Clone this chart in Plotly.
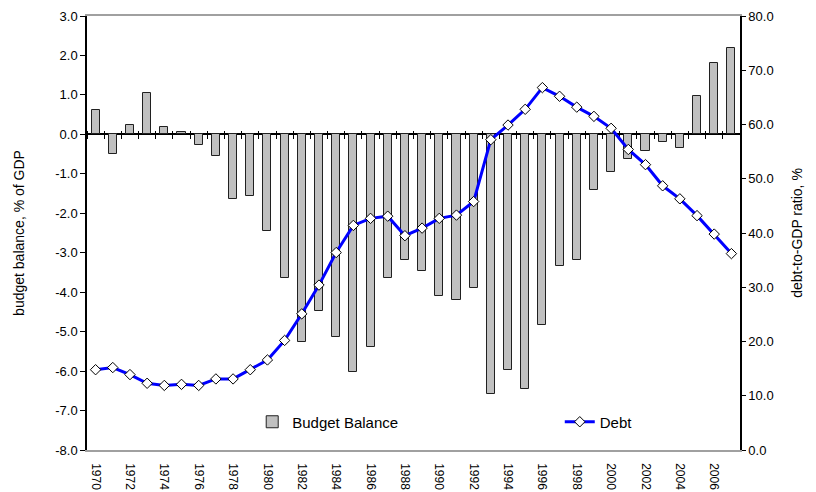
import plotly.graph_objects as go

years = list(range(1970, 2008))
budget_balance = [0.62, -0.50, 0.25, 1.04, 0.18, 0.06, -0.28, -0.56, -1.64, -1.55,
                  -2.46, -3.65, -5.25, -4.47, -5.13, -6.02, -5.40, -3.63, -3.19, -3.47,
                  -4.09, -4.21, -3.90, -6.57, -5.98, -6.45, -4.83, -3.34, -3.19, -1.42,
                  -0.96, -0.63, -0.43, -0.19, -0.34, 0.97, 1.81, 2.19]
debt = [14.8, 15.2, 13.9, 12.3, 11.9, 12.1, 11.9, 13.1, 13.1, 14.8,
        16.6, 20.2, 25.1, 30.4, 36.4, 41.4, 42.7, 43.1, 39.5, 40.9,
        42.7, 43.3, 45.8, 57.2, 59.9, 62.8, 66.8, 65.2, 63.2, 61.5,
        59.3, 55.4, 52.6, 48.7, 46.3, 43.2, 39.8, 36.2]

x_tick_labels = [str(y) for y in range(1970, 2007, 2)]
left_tick_vals = [3, 2, 1, 0, -1, -2, -3, -4, -5, -6, -7, -8]
left_tick_text = ["3.0", "2.0", "1.0", "0.0", "-1.0", "-2.0", "-3.0", "-4.0",
                  "-5.0", "-6.0", "-7.0", "-8.0"]
right_tick_vals = [0, 10, 20, 30, 40, 50, 60, 70, 80]
right_tick_text = ["0.0", "10.0", "20.0", "30.0", "40.0", "50.0", "60.0", "70.0", "80.0"]

FONT = "Liberation Sans, Arial, sans-serif"

fig = go.Figure()

fig.add_trace(go.Bar(
    x=years, y=budget_balance, name="Budget Balance",
    width=0.47,
    marker=dict(color="#c0c0c0", line=dict(color="#202020", width=1)),
    xaxis="x", yaxis="y", legend="legend",
))

fig.add_trace(go.Scatter(
    x=years, y=debt, name="Debt", mode="lines+markers",
    line=dict(color="#0000ff", width=3),
    marker=dict(symbol="diamond", size=8, color="white",
                line=dict(color="black", width=1)),
    xaxis="x", yaxis="y2", legend="legend2",
))

# invisible traces so the zero-line axes get drawn
for ax in ("x2", "x3"):
    fig.add_trace(go.Scatter(x=[years[0]], y=[0], mode="markers",
                             marker=dict(opacity=0), showlegend=False,
                             hoverinfo="skip", xaxis=ax, yaxis="y"))

xr = [1969.5, 2007.5]
zero_pos = 8 / 11

fig.update_layout(
    width=816, height=492,
    margin=dict(l=87, r=76, t=16, b=42),
    paper_bgcolor="white", plot_bgcolor="white",
    font=dict(family=FONT, color="black", size=13),
    bargap=0,
    xaxis=dict(
        range=xr, tickmode="array",
        tickvals=[int(t) for t in x_tick_labels], ticktext=x_tick_labels,
        tickangle=90, tickfont=dict(size=12), ticks="",
        showline=True, linecolor="#a0a0a0", linewidth=1.5, mirror=True,
        showgrid=False, zeroline=False, ticklabelstandoff=9, automargin=False,
    ),
    xaxis2=dict(
        range=xr, overlaying="x", anchor="free", position=zero_pos, side="bottom",
        tickmode="linear", tick0=1969.5, dtick=1, ticks="outside", ticklen=4,
        tickcolor="black", showticklabels=False, showline=True, linecolor="black",
        linewidth=1.5, showgrid=False, zeroline=False, layer="below traces",
        automargin=False,
    ),
    xaxis3=dict(
        range=xr, overlaying="x", anchor="free", position=zero_pos, side="top",
        tickmode="linear", tick0=1969.5, dtick=1, ticks="outside", ticklen=3,
        tickcolor="black", showticklabels=False, showline=False,
        showgrid=False, zeroline=False, layer="below traces", automargin=False,
    ),
    yaxis=dict(
        range=[-8, 3], tickmode="array", tickvals=left_tick_vals, ticktext=left_tick_text,
        ticks="outside", ticklen=5, tickcolor="black",
        showline=True, linecolor="black", linewidth=1.5,
        showgrid=False, zeroline=False, tickfont=dict(size=13), automargin=False,
        title=dict(text="budget balance, % of GDP", font=dict(size=14), standoff=27),
    ),
    yaxis2=dict(
        range=[0, 80], overlaying="y", side="right", anchor="x",
        tickmode="array", tickvals=right_tick_vals, ticktext=right_tick_text,
        ticks="outside", ticklen=4, tickcolor="black",
        showline=True, linecolor="black", linewidth=1.5,
        showgrid=False, zeroline=False, tickfont=dict(size=13), automargin=False,
        title=dict(text="debt-to-GDP ratio, %", font=dict(size=14), standoff=20),
    ),
    legend=dict(x=0.253, y=0.0645, xanchor="left", yanchor="middle",
                bgcolor="rgba(0,0,0,0)", font=dict(size=15)),
    legend2=dict(x=0.724, y=0.0645, xanchor="left", yanchor="middle",
                 bgcolor="rgba(0,0,0,0)", font=dict(size=15)),
)

fig.write_html("out.html", config={"displayModeBar": False},
               post_script="document.body.style.margin='0';document.body.style.overflow='hidden';")
